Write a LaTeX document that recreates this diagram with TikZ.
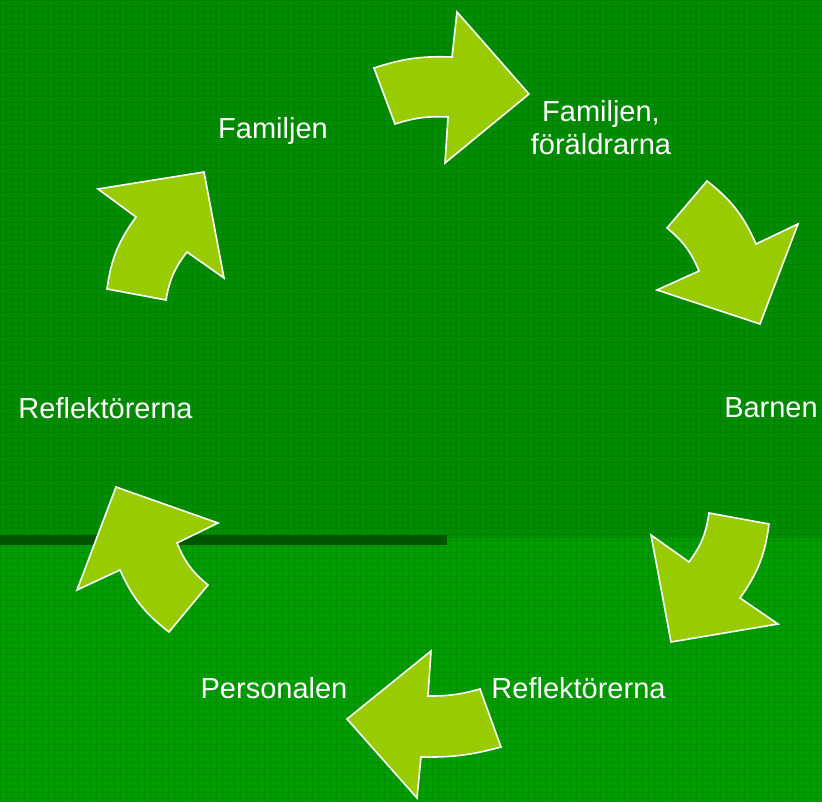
\documentclass[tikz,border=0pt]{standalone}
\usepackage{fontspec}
\setmainfont{Liberation Sans}
\definecolor{topgreen}{RGB}{0,142,0}
\definecolor{botgreen}{RGB}{0,158,0}
\definecolor{gridgreen}{RGB}{0,110,0}
\definecolor{bargreen}{RGB}{0,85,0}
\definecolor{arrowfill}{RGB}{153,204,0}
\tikzset{
  arrowshape/.style={fill=arrowfill, draw=white, line width=1.6pt, line join=miter},
  lbl/.style={text=white, inner sep=0pt, anchor=base, font=\fontsize{29}{33}\selectfont}
}
\begin{document}
\begin{tikzpicture}[x=1pt, y=-1pt]
\useasboundingbox (0,0) rectangle (822,802);
% background
\fill[topgreen] (0,0) rectangle (822,538);
\fill[botgreen] (0,538) rectangle (822,802);
\draw[gridgreen, line width=0.7pt, opacity=0.35] (0,0) grid[step=6pt] (822,802);
\fill[bargreen] (0,535) rectangle (447,545);

% arrow 1 (top, right)
\draw[arrowshape] (529,94) -- (445,163) -- (448,117) to[bend right=10] (395,124)
  -- (374,68) to[bend left=10] (452,57) -- (457,12) -- cycle;
% arrow 2 (upper right, down-right)
\draw[arrowshape] (760,324) -- (657,290) -- (699,271) to[bend right=14] (667,228)
  -- (707,181) to[bend left=14] (756,244) -- (798,224) -- cycle;
% arrow 3 (lower right, down-left)
\draw[arrowshape] (671,642) -- (651,535) -- (689,562) to[bend right=14] (709,513)
  -- (769,524) to[bend left=14] (740,598) -- (778,624) -- cycle;
% arrow 4 (bottom, left)
\draw[arrowshape] (347,719) -- (431,651) -- (428,696) to[bend right=8] (480,689)
  -- (501,747) to[bend left=8] (421,757) -- (417,798) -- cycle;
% arrow 5 (lower left, up-left)
\draw[arrowshape] (116,487) -- (218,523) -- (177,543) to[bend right=14] (208,585)
  -- (169,632) to[bend left=14] (120,570) -- (77,590) -- cycle;
% arrow 6 (upper left, up-right)
\draw[arrowshape] (204,172) -- (224,278) -- (187,252) to[bend right=14] (166,300)
  -- (107,289) to[bend left=14] (136,217) -- (98,189) -- cycle;

% labels
\node[lbl] (familjen) at (273,139) {Familjen};
\node[lbl] (familjen2a) at (601,122) {Familjen,};
\node[lbl] (familjen2b) at (601,155) {föräldrarna};
\node[lbl] (barnen) at (771,417) {Barnen};
\node[lbl] (reflR) at (578.5,698) {Reflektörerna};
\node[lbl] (personalen) at (274,698) {Personalen};
\node[lbl] (reflL) at (105.5,418) {Reflektörerna};
\end{tikzpicture}
\end{document}
